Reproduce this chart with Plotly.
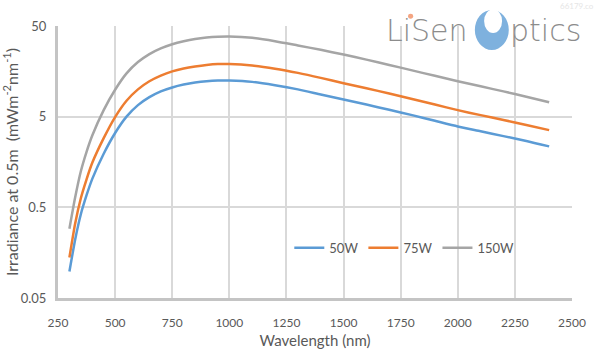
import plotly.graph_objects as go

wavelength = [300, 325, 350, 375, 400, 450, 500, 550, 600, 650, 700, 750, 800, 850, 900, 950,
              1000, 1100, 1200, 1300, 1400, 1500, 1600, 1700, 1800, 1900, 2000, 2100, 2200, 2300, 2400]

irr_50w = [0.098, 0.22, 0.42, 0.68, 1.03, 1.95, 3.3, 5.0, 6.7, 8.2, 9.5, 10.5, 11.3, 11.9, 12.3, 12.5,
           12.5, 12.1, 11.1, 10.0, 8.8, 7.75, 6.8, 5.95, 5.2, 4.5, 3.9, 3.45, 3.05, 2.7, 2.35]
irr_75w = [0.14, 0.33, 0.63, 1.02, 1.55, 2.9, 4.95, 7.5, 10.0, 12.3, 14.2, 15.8, 17.0, 17.9, 18.6, 19.0,
           19.0, 18.3, 16.9, 15.2, 13.4, 11.7, 10.3, 9.0, 7.85, 6.8, 5.9, 5.2, 4.6, 4.05, 3.55]
irr_150w = [0.29, 0.64, 1.25, 2.05, 3.1, 5.9, 9.9, 15.0, 20.0, 24.5, 28.3, 31.5, 34.0, 36.0, 37.3, 38.0,
            38.2, 37.0, 34.0, 30.5, 27.3, 24.2, 21.3, 18.6, 16.2, 14.1, 12.3, 10.8, 9.5, 8.3, 7.2]

series_names = ["50W", "75W", "150W"]
series_colors = ["#5B9BD5", "#ED7D31", "#A5A5A5"]

y_tick_vals = [0.05, 0.5, 5, 50]
y_tick_text = ["0.05", "0.5", "5", "50"]
x_tick_vals = [250, 500, 750, 1000, 1250, 1500, 1750, 2000, 2250, 2500]

FONT = "Lato, 'Open Sans', sans-serif"
LOGO_FONT = "'DejaVu Sans', sans-serif"
TXT = "#595959"

fig = go.Figure()
for name, vals, col in zip(series_names, [irr_50w, irr_75w, irr_150w], series_colors):
    fig.add_trace(go.Scatter(x=wavelength, y=vals, mode="lines", name=name,
                             line=dict(color=col, width=2.5, shape="spline", smoothing=0.6)))

fig.update_layout(
    width=600, height=358,
    margin=dict(l=58, r=28, t=26, b=60, autoexpand=False),
    paper_bgcolor="white", plot_bgcolor="white",
    font=dict(family=FONT, color=TXT, size=13),
    showlegend=True,
    legend=dict(orientation="h", x=0.45, y=0.185, xanchor="left", yanchor="middle",
                bgcolor="rgba(0,0,0,0)", font=dict(size=13, color=TXT),
                itemwidth=30, tracegroupgap=0),
)
fig.update_xaxes(range=[250, 2500], tickvals=x_tick_vals, showgrid=True, automargin=False,
                 gridcolor="#D9D9D9", gridwidth=1.5, zeroline=False,
                 showline=True, linecolor="#C4C4C4", linewidth=3,
                 ticks="", ticklabelstandoff=12, tickfont=dict(size=12, color=TXT),
                 title=dict(text="Wavelength (nm)", font=dict(size=15, color=TXT), standoff=7))
fig.update_yaxes(type="log", range=[-1.30103, 1.69897], tickvals=y_tick_vals, ticktext=y_tick_text,
                 showgrid=True, gridcolor="#D9D9D9", gridwidth=1.5, zeroline=False, automargin=False,
                 showline=True, linecolor="#C4C4C4", linewidth=3,
                 ticks="", ticklabelstandoff=6, tickfont=dict(size=13, color=TXT),
                 title=dict(text="Irradiance at 0.5m  (mWm<sup>-2</sup>nm<sup>-1</sup>)",
                            font=dict(size=16, color=TXT), standoff=5))

# Logo (LiSen Optics)
fig.add_shape(type="circle", xref="paper", yref="paper", x0=0.811, x1=0.877, y0=0.912, y1=1.059,
              fillcolor="#7EB1DE", line=dict(width=0), layer="above")
fig.add_shape(type="circle", xref="paper", yref="paper", x0=0.829, x1=0.864, y0=0.974, y1=1.062,
              fillcolor="white", line=dict(width=0), layer="above")
fig.add_annotation(xref="paper", yref="paper", x=0.8, y=0.985, xanchor="right", yanchor="middle",
                   text="LiSen", showarrow=False, borderpad=0,
                   font=dict(size=30, color="#8C8C8C", family=LOGO_FONT, weight=200))
fig.add_annotation(xref="paper", yref="paper", x=0.877, y=0.985, xanchor="left", yanchor="middle",
                   text="ptics", showarrow=False, borderpad=0,
                   font=dict(size=30, color="#8C8C8C", family=LOGO_FONT, weight=200))
fig.add_shape(type="circle", xref="paper", yref="paper", x0=0.681, x1=0.691, y0=1.027, y1=1.045,
              fillcolor="#F4A582", line=dict(width=0), layer="above")
fig.add_annotation(xref="paper", yref="paper", x=1.045, y=1.0956, xanchor="right", yanchor="top",
                   text="66179.co", showarrow=False, borderpad=0,
                   font=dict(size=8, color="#E6E6E6", family=FONT))

fig.write_html("out.html", config={"displayModeBar": False},
               post_script="document.body.style.margin='0';")
